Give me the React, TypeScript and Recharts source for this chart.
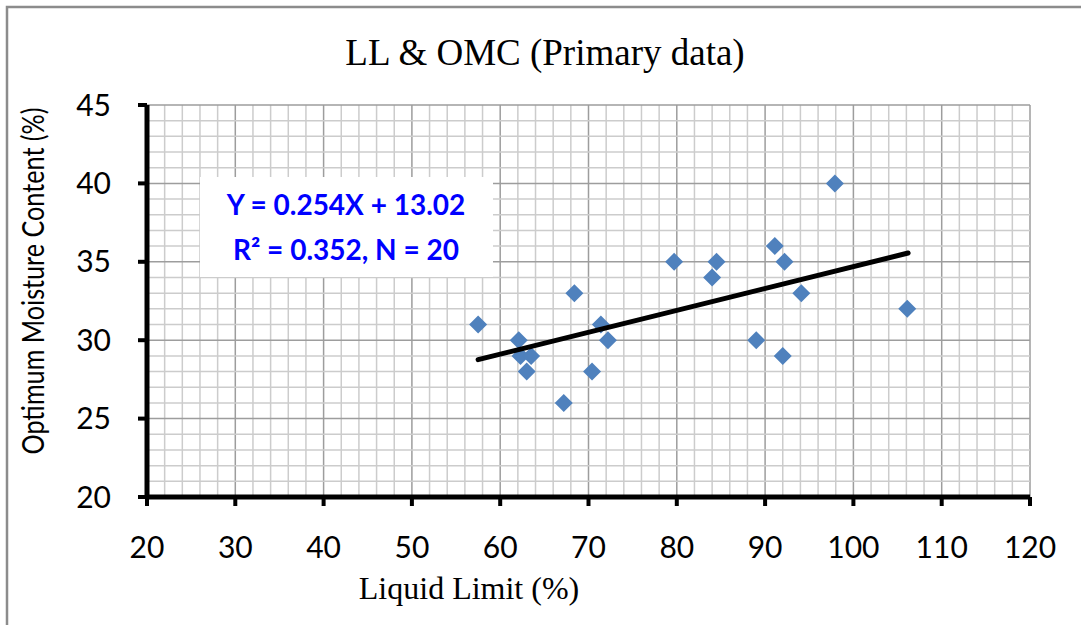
import React from 'react';
import { ScatterChart, Scatter, XAxis, YAxis, ReferenceLine } from 'recharts';

// Liquid limit (%) and optimum moisture content (%)
const LIQUID_LIMIT = [
  57.5, 62.1, 62.3, 63.5, 63.0, 67.2, 68.4, 70.4, 71.4, 72.2,
  79.7, 84.0, 84.5, 89.0, 91.1, 92.2, 92.0, 94.1, 97.9, 106.1,
];
const OMC = [
  31, 30, 29, 29, 28, 26, 33, 28, 31, 30,
  35, 34, 35, 30, 36, 35, 29, 33, 40, 32,
];

// trend line as drawn (end points)
const TREND_X = [57.5, 106.2];
const TREND_Y = [28.76, 35.56];

const X_TICKS = [20, 30, 40, 50, 60, 70, 80, 90, 100, 110, 120];
const Y_TICKS = [20, 25, 30, 35, 40, 45];

const X_MINOR = Array.from({ length: 51 }, (_, i) => 20 + i * 2);
const Y_MINOR = Array.from({ length: 26 }, (_, i) => 20 + i);

const points = LIQUID_LIMIT.map((x, i) => ({ x, y: OMC[i] }));
const trend = TREND_X.map((x, i) => ({ x, y: TREND_Y[i] }));

const W = 1081;
const H = 625;

const Diamond = (props: { cx?: number; cy?: number }) => {
  const { cx = 0, cy = 0 } = props;
  const r = 9;
  return (
    <polygon
      points={`${cx},${cy - r} ${cx + r},${cy} ${cx},${cy + r} ${cx - r},${cy}`}
      fill="#4F81BD"
    />
  );
};

const tickStyle = { fill: '#000', fontSize: 30, fontFamily: 'Lato, "Open Sans", sans-serif' };

const gridColor = (major: boolean) => (major ? '#9d9d9d' : '#cccccc');

export default function App() {
  return (
    <div style={{ position: 'absolute', left: 0, top: 0, width: W, height: H, background: '#fff' }}>
      <ScatterChart width={W} height={H} margin={{ top: 105, right: 51, bottom: 68, left: 87 }}>
        {X_MINOR.map((v) => (
          <ReferenceLine
            key={`vx-${v}`}
            x={v}
            stroke={gridColor(v % 10 === 0)}
            strokeWidth={1.5}
          />
        ))}
        {Y_MINOR.map((v) => (
          <ReferenceLine
            key={`hy-${v}`}
            y={v}
            stroke={gridColor(v % 5 === 0)}
            strokeWidth={1.5}
          />
        ))}
        <XAxis
          type="number"
          dataKey="x"
          domain={[20, 120]}
          ticks={X_TICKS}
          height={60}
          axisLine={{ stroke: '#000', strokeWidth: 5 }}
          tickLine={{ stroke: '#000', strokeWidth: 4 }}
          tickSize={9}
          tickMargin={31}
          tick={tickStyle}
          allowDataOverflow
        />
        <YAxis
          type="number"
          dataKey="y"
          domain={[20, 45]}
          ticks={Y_TICKS}
          width={60}
          axisLine={{ stroke: '#000', strokeWidth: 5 }}
          tickLine={{ stroke: '#000', strokeWidth: 4 }}
          tickSize={9}
          tickMargin={27}
          tick={tickStyle}
          allowDataOverflow
        />
        <Scatter data={points} shape={<Diamond />} isAnimationActive={false} />
        <Scatter
          data={trend}
          line={{ stroke: '#000', strokeWidth: 5, strokeLinecap: 'round' }}
          shape={() => <g />}
          isAnimationActive={false}
        />
      </ScatterChart>

      <svg
        width={W}
        height={H}
        style={{ position: 'absolute', left: 0, top: 0, pointerEvents: 'none' }}
      >
        <path d={`M7,${H} V7 H${W}`} fill="none" stroke="#8c8c8c" strokeWidth={2.5} />
        <text
          x={545}
          y={65}
          textAnchor="middle"
          fontFamily='"Liberation Serif", serif'
          fontSize={37}
          fill="#000"
        >
          LL &amp; OMC (Primary data)
        </text>
        <text
          x={469}
          y={599}
          textAnchor="middle"
          fontFamily='"Liberation Serif", serif'
          fontSize={32}
          fill="#000"
        >
          Liquid Limit (%)
        </text>
        <text
          transform="translate(44,281) rotate(-90)"
          textAnchor="middle"
          fontFamily='Lato, sans-serif'
          fontSize={31}
          textLength={347}
          lengthAdjust="spacingAndGlyphs"
          fill="#000"
        >
          Optimum Moisture Content (%)
        </text>
        <rect x={200} y={177} width={293} height={100} fill="#fff" />
        <text
          x={346}
          y={215}
          textAnchor="middle"
          fontFamily='Lato, sans-serif'
          fontWeight="bold"
          fontSize={28}
          fill="#0000ff"
        >
          Y = 0.254X + 13.02
        </text>
        <text
          x={346}
          y={260}
          textAnchor="middle"
          fontFamily='Lato, sans-serif'
          fontWeight="bold"
          fontSize={28}
          fill="#0000ff"
        >
          R² = 0.352, N = 20
        </text>
      </svg>
    </div>
  );
}
